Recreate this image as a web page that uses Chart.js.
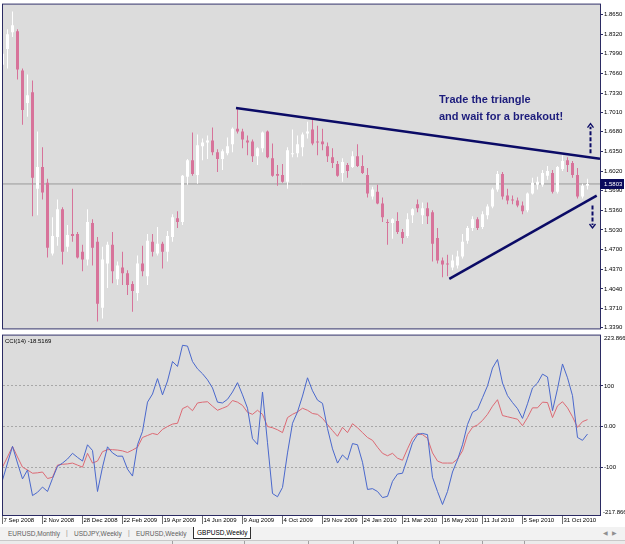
<!DOCTYPE html>
<html>
<head>
<meta charset="utf-8">
<title>GBPUSD,Weekly</title>
<script src="https://cdn.jsdelivr.net/npm/chart.js@4.4.1/dist/chart.umd.min.js"></script>
<style>
  html, body { margin: 0; padding: 0; background: #ffffff; }
  #terminal { position: relative; width: 625px; height: 544px; overflow: hidden; background: #ffffff;
              font-family: "Liberation Sans", Arial, sans-serif; }
  #priceChart { position: absolute; left: 0; top: 0; }
  #cciChart { position: absolute; left: 0; top: 331px; }
  #tabs { position: absolute; left: 0; top: 527px; width: 625px; height: 13px; background: #f2f2f2;
          font-size: 6.5px; color: #606060; }
  .tab { position: absolute; top: 3px; white-space: nowrap; }
  .tab.active { top: 0; height: 11px; line-height: 11px; padding: 0 3px; background: #ffffff;
                border: 1px solid #303030; border-top: none; color: #000000; }
  .bar { position: absolute; top: 2px; color: #909090; }
  #scroll { position: absolute; top: 2px; right: 4px; color: #909090; font-size: 6px; letter-spacing: 4px; }
  #status { position: absolute; left: 0; top: 540px; width: 625px; height: 4px; background: #ebebeb;
            border-top: 1px solid #c8c8c8; }
  #status i { position: absolute; top: 0; width: 1px; height: 4px; background: #a0a0a0; }
</style>
</head>
<body>
<div id="terminal">
  <canvas id="priceChart" width="625" height="333"></canvas>
  <canvas id="cciChart" width="625" height="197"></canvas>
  <div id="tabs">
    <span class="tab" style="left:8px">EURUSD,Monthly</span>
    <span class="bar" style="left:66px">|</span>
    <span class="tab" style="left:74px">USDJPY,Weekly</span>
    <span class="bar" style="left:128px">|</span>
    <span class="tab" style="left:136px">EURUSD,Weekly</span>
    <span class="tab active" style="left:193px">GBPUSD,Weekly</span>
    <span id="scroll">&#9664;&#9654;</span>
  </div>
  <div id="status">
    <i style="left:172px"></i><i style="left:244px"></i><i style="left:308px"></i><i style="left:353px"></i>
    <i style="left:397px"></i><i style="left:439px"></i><i style="left:482px"></i><i style="left:524px"></i>
  </div>
</div>

<script>
// GBPUSD weekly candles, one entry per bar (bar 0 = 7 Sep 2008)
const opens = [
  1.7806, 1.8071, 1.8352, 1.8369, 1.7707, 1.7162, 1.7343, 1.5724, 1.6087, 1.5823,
  1.4633, 1.4914, 1.5377, 1.4749, 1.4963, 1.4963, 1.4666, 1.4534, 1.5146, 1.4831,
  1.3724, 1.4468, 1.4782, 1.4203, 1.4401, 1.4302, 1.4121, 1.3972, 1.4468, 1.4253,
  1.4831, 1.4633, 1.4798, 1.4666, 1.4914, 1.5228, 1.5162, 1.5922, 1.6203, 1.5955,
  1.6434, 1.6501, 1.6534, 1.6336, 1.6220, 1.6319, 1.6468, 1.6732, 1.6682, 1.6534,
  1.6517, 1.6270, 1.6402, 1.6682, 1.6236, 1.5972, 1.5955, 1.5840, 1.6303, 1.6319,
  1.6418, 1.6650, 1.6716, 1.6517, 1.6517, 1.6434, 1.6253, 1.6137, 1.5988, 1.6121,
  1.6087, 1.6270, 1.6104, 1.5955, 1.5592, 1.5674, 1.5476, 1.5162, 1.5146, 1.5179,
  1.4996, 1.4930, 1.5278, 1.5460, 1.5278, 1.5393, 1.5327, 1.4897, 1.4517, 1.4468,
  1.4401, 1.4434, 1.4583, 1.4848, 1.5063, 1.5212, 1.5079, 1.5278, 1.5426, 1.5708,
  1.5972, 1.5608, 1.5542, 1.5525, 1.5443, 1.5360, 1.5641, 1.5790, 1.5790, 1.5939,
  1.5988, 1.5674, 1.6055, 1.6203, 1.6154, 1.5955, 1.5592, 1.5774
];
const highs = [
  1.8055, 1.8402, 1.8699, 1.8402, 1.7740, 1.7641, 1.7542, 1.6682, 1.6418, 1.5889,
  1.5245, 1.5542, 1.5410, 1.5113, 1.5724, 1.4996, 1.4782, 1.5377, 1.5212, 1.4914,
  1.4749, 1.4831, 1.4996, 1.4500, 1.4666, 1.4352, 1.4170, 1.4600, 1.4765, 1.4963,
  1.4963, 1.5079, 1.4831, 1.5013, 1.5294, 1.5344, 1.5955, 1.6220, 1.6666, 1.6633,
  1.6567, 1.6616, 1.6749, 1.6385, 1.6385, 1.6583, 1.6749, 1.7063, 1.6732, 1.6616,
  1.6550, 1.6418, 1.6682, 1.6699, 1.6484, 1.6121, 1.6137, 1.6418, 1.6716, 1.6616,
  1.6666, 1.6848, 1.6881, 1.6782, 1.6732, 1.6501, 1.6402, 1.6187, 1.6236, 1.6154,
  1.6352, 1.6468, 1.6286, 1.6071, 1.5757, 1.5790, 1.5575, 1.5212, 1.5228, 1.5327,
  1.5046, 1.5311, 1.5393, 1.5542, 1.5493, 1.5493, 1.5360, 1.5063, 1.4567, 1.4616,
  1.4616, 1.4682, 1.4963, 1.5096, 1.5261, 1.5245, 1.5344, 1.5460, 1.5740, 1.6021,
  1.6005, 1.5724, 1.5608, 1.5575, 1.5509, 1.5658, 1.5906, 1.5922, 1.6038, 1.6104,
  1.6038, 1.6104, 1.6286, 1.6253, 1.6187, 1.6071, 1.5807, 1.5889
];
const lows = [
  1.7757, 1.7740, 1.8269, 1.7559, 1.6799, 1.6931, 1.5261, 1.5278, 1.5542, 1.4567,
  1.4600, 1.4765, 1.4451, 1.4666, 1.4831, 1.4550, 1.4335, 1.4434, 1.4434, 1.3493,
  1.3542, 1.4055, 1.4137, 1.4104, 1.4104, 1.3938, 1.3658, 1.3840, 1.4253, 1.4104,
  1.4583, 1.4600, 1.4385, 1.4500, 1.4831, 1.5063, 1.5113, 1.5790, 1.5939, 1.5807,
  1.6203, 1.6220, 1.6286, 1.6005, 1.6038, 1.6286, 1.6336, 1.6650, 1.6402, 1.6286,
  1.6170, 1.6121, 1.6336, 1.6236, 1.5922, 1.5774, 1.5823, 1.5724, 1.6253, 1.6253,
  1.6270, 1.6567, 1.6451, 1.6286, 1.6369, 1.6170, 1.6071, 1.5922, 1.5840, 1.5906,
  1.6071, 1.6087, 1.5972, 1.5575, 1.5542, 1.5460, 1.5162, 1.4782, 1.4881, 1.4963,
  1.4798, 1.4897, 1.5146, 1.5327, 1.5129, 1.5129, 1.4500, 1.4468, 1.4236, 1.4253,
  1.4352, 1.4385, 1.4550, 1.4798, 1.5013, 1.5029, 1.5046, 1.5212, 1.5393, 1.5674,
  1.5542, 1.5460, 1.5460, 1.5410, 1.5294, 1.5327, 1.5625, 1.5708, 1.5757, 1.5873,
  1.5641, 1.5641, 1.6021, 1.6005, 1.5906, 1.5559, 1.5559, 1.5708
];
const closes = [
  1.7989, 1.8319, 1.8468, 1.7724, 1.7046, 1.7294, 1.5906, 1.6087, 1.5658, 1.4732,
  1.4930, 1.5377, 1.4666, 1.4947, 1.4930, 1.4567, 1.4534, 1.5162, 1.4732, 1.3790,
  1.4534, 1.4782, 1.4335, 1.4434, 1.4302, 1.4104, 1.4005, 1.4468, 1.4335, 1.4848,
  1.4666, 1.4798, 1.4666, 1.4930, 1.5245, 1.5162, 1.5939, 1.6203, 1.5972, 1.6451,
  1.6501, 1.6534, 1.6336, 1.6220, 1.6352, 1.6434, 1.6732, 1.6682, 1.6550, 1.6501,
  1.6270, 1.6402, 1.6666, 1.6253, 1.5939, 1.5939, 1.5840, 1.6369, 1.6319, 1.6468,
  1.6633, 1.6682, 1.6484, 1.6501, 1.6468, 1.6270, 1.6154, 1.5939, 1.6170, 1.6021,
  1.6270, 1.6104, 1.5988, 1.5641, 1.5708, 1.5476, 1.5245, 1.5146, 1.5212, 1.4996,
  1.4897, 1.5212, 1.5377, 1.5393, 1.5393, 1.5261, 1.4798, 1.4517, 1.4451, 1.4451,
  1.4517, 1.4583, 1.4831, 1.5063, 1.5212, 1.5063, 1.5294, 1.5426, 1.5708, 1.5972,
  1.5592, 1.5525, 1.5525, 1.5443, 1.5344, 1.5641, 1.5823, 1.5840, 1.5988, 1.6021,
  1.5674, 1.6087, 1.6187, 1.6121, 1.5955, 1.5592, 1.5774, 1.5803
];

// CCI(14) and its signal line, same bars
const cciValues = [
  -132, -90, -49, -90, -129, -107, -170, -162, -149, -160,
  -128, -98, -90, -80, -66, -76, -85, -45, -59, -160,
  -100, -50, -65, -73, -73, -105, -122, -45, -12, 60,
  80, 118, 78, 112, 160, 148, 200, 198, 160, 142,
  130, 115, 95, 60, 58, 67, 85, 108, 78, 45,
  -30, -44, 85, -40, -165, -173, -150, -65, 8, 36,
  75, 120, 88, 65, 57, -5, -55, -90, -70, -82,
  -42, -45, -88, -155, -153, -160, -175, -172, -135, -117,
  -115, -78, -40, -20, -17, -20, -125, -160, -192, -160,
  -112, -82, -45, 5, 35, 42, 71, 100, 144, 165,
  107, 76, 59, 44, 20, 56, 95, 107, 129, 122,
  39, 93, 154, 120, 76, -27, -34, -18.5169
];
const cciSignal = [
  -100, -75, -49, -75, -100, -107, -115, -114, -112, -128,
  -125, -95, -93, -92, -90, -95, -100, -66, -90, -85,
  -62, -57, -57, -58, -60, -64, -58, -51, -27, -22,
  -17, -20, -7, 0, 6, 8, 44, 50, 39, 58,
  60, 61, 50, 40, 45, 50, 64, 60, 52, 35,
  30, 40, 30, 0, -3, -8, -15, 22, 30, 36,
  45, 40, 32, 30, 20, 5, -10, -24, -2, -15,
  7, -3, -15, -27, -34, -51, -66, -72, -66, -78,
  -83, -55, -29, -17, -20, -29, -65, -85, -90, -90,
  -90, -80, -60, -20, -2, 4, 15, 30, 50, 66,
  27, 24, 21, 18, 2, 22, 46, 46, 60, 59,
  22, 51, 61, 46, 24, -2, 12, 17
];

// axis labels
const priceTicks = [1.8650, 1.8320, 1.7990, 1.7660, 1.7330, 1.7010, 1.6680, 1.6350, 1.6020,
                    1.5690, 1.5360, 1.5030, 1.4700, 1.4370, 1.4040, 1.3710, 1.3390];
const cciTicks = [100, 0, -100];
const cciRange = [-217.866, 223.8665];
const dateLabels = ['7 Sep 2008', '2 Nov 2008', '28 Dec 2008', '22 Feb 2009', '19 Apr 2009',
                    '14 Jun 2009', '9 Aug 2009', '4 Oct 2009', '29 Nov 2009', '24 Jan 2010',
                    '21 Mar 2010', '16 May 2010', '11 Jul 2010', '5 Sep 2010', '31 Oct 2010'];
const barsPerLabel = 8;

// hand drawn trend lines, in bar / price units
const upperTrend = [{ x: 46.7, y: 1.7079 }, { x: 119.5, y: 1.6225 }];
const lowerTrend = [{ x: 89.36, y: 1.4210 }, { x: 118.84, y: 1.5608 }];
const upArrow = { x: 117.6, from: 1.6319, to: 1.6815 };
const downArrow = { x: 118.0, from: 1.5443, to: 1.5063 };
const noteLines = ['Trade the triangle', 'and wait for a breakout!'];
const noteAnchor = { x: 87.3, y: [1.7215, 1.6935] };

(function () {
  'use strict';

  const X_MIN = 0.1;
  const X_MAX = 119.5;
  const PLOT_BG = '#dcdcdc';
  const FRAME = '#2b2b63';
  const NAVY = '#0b0b66';
  const BULL = '#ffffff';
  const BEAR = '#d7739a';
  const TICK_FONT = { family: 'Liberation Sans, Arial, sans-serif', size: 6 };

  const candleColors = closes.map((c, i) => (c >= opens[i] ? BULL : BEAR));
  const lastClose = closes[closes.length - 1];

  // background + frame round the plotting area, MT4 style
  const panelFrame = {
    id: 'panelFrame',
    beforeDraw(chart) {
      const { ctx, chartArea: a } = chart;
      ctx.save();
      ctx.fillStyle = '#ffffff';
      ctx.fillRect(0, 0, chart.width, chart.height);
      ctx.fillStyle = PLOT_BG;
      ctx.fillRect(a.left, a.top, a.right - a.left, a.bottom - a.top);
      ctx.restore();
    },
    afterDraw(chart) {
      const { ctx, chartArea: a } = chart;
      ctx.save();
      ctx.strokeStyle = FRAME;
      ctx.lineWidth = 1;
      ctx.strokeRect(a.left - 0.5, a.top - 0.5, a.right - a.left + 1, a.bottom - a.top + 1);
      ctx.restore();
    }
  };

  function drawDashedArrow(ctx, x, y1, y2) {
    const dir = y2 < y1 ? -1 : 1;
    ctx.save();
    ctx.strokeStyle = NAVY;
    ctx.lineWidth = 2;
    ctx.setLineDash([4, 2]);
    ctx.beginPath();
    ctx.moveTo(x, y1);
    ctx.lineTo(x, y2 - dir * 3);
    ctx.stroke();
    ctx.setLineDash([]);
    ctx.lineWidth = 1.3;
    ctx.beginPath();
    ctx.moveTo(x - 3, y2 - dir * 4);
    ctx.lineTo(x, y2);
    ctx.lineTo(x + 3, y2 - dir * 4);
    ctx.stroke();
    ctx.restore();
  }

  // text, arrows and the bid label of the price window
  const priceNotes = {
    id: 'priceNotes',
    afterDatasetsDraw(chart) {
      const { ctx, scales: { x, y } } = chart;
      drawDashedArrow(ctx, x.getPixelForValue(upArrow.x), y.getPixelForValue(upArrow.from), y.getPixelForValue(upArrow.to));
      drawDashedArrow(ctx, x.getPixelForValue(downArrow.x), y.getPixelForValue(downArrow.from), y.getPixelForValue(downArrow.to));
      ctx.save();
      ctx.fillStyle = '#1c1c7c';
      ctx.font = 'bold 11px "Liberation Sans", Arial, sans-serif';
      ctx.textBaseline = 'middle';
      noteLines.forEach((t, k) => {
        ctx.fillText(t, x.getPixelForValue(noteAnchor.x), y.getPixelForValue(noteAnchor.y[k]));
      });
      ctx.restore();
    },
    afterDraw(chart) {
      const { ctx, chartArea: a, scales: { y } } = chart;
      const py = Math.round(y.getPixelForValue(lastClose));
      ctx.save();
      ctx.fillStyle = '#0a0a5c';
      ctx.fillRect(a.right, py - 5, 24, 10);
      ctx.fillStyle = '#ffffff';
      ctx.font = '6px "Liberation Sans", Arial, sans-serif';
      ctx.textBaseline = 'middle';
      ctx.fillText(lastClose.toFixed(4), a.right + 4, py);
      ctx.restore();
    }
  };

  // indicator caption and the min/max labels MT4 puts at the window edges
  const cciNotes = {
    id: 'cciNotes',
    afterDraw(chart) {
      const { ctx, chartArea: a, scales: { y } } = chart;
      ctx.save();
      ctx.fillStyle = '#000000';
      ctx.font = '6px "Liberation Sans", Arial, sans-serif';
      ctx.textBaseline = 'middle';
      ctx.fillText('CCI(14) ' + cciValues[cciValues.length - 1].toFixed(4), a.left + 2, a.top + 6);
      ctx.fillText(cciRange[1].toFixed(4), a.right + 4, y.getPixelForValue(cciRange[1]) + 3);
      ctx.fillText(cciRange[0].toFixed(3), a.right + 3, y.getPixelForValue(cciRange[0]) - 3);
      ctx.restore();
    }
  };

  const xBase = {
    type: 'linear',
    min: X_MIN,
    max: X_MAX,
    offset: false
  };

  new Chart(document.getElementById('priceChart'), {
    type: 'bar',
    data: {
      datasets: [
        {
          type: 'line',
          data: upperTrend,
          borderColor: NAVY,
          borderWidth: 2.5,
          pointRadius: 0,
          order: 0
        },
        {
          type: 'line',
          data: lowerTrend,
          borderColor: NAVY,
          borderWidth: 2.5,
          pointRadius: 0,
          order: 0
        },
        {
          data: opens.map((o, i) => ({ x: i, y: [o, closes[i]] })),
          backgroundColor: candleColors,
          barThickness: 3,
          minBarLength: 1,
          inflateAmount: 0,
          grouped: false,
          order: 1
        },
        {
          data: highs.map((h, i) => ({ x: i, y: [lows[i], h] })),
          backgroundColor: candleColors,
          barThickness: 1,
          inflateAmount: 0,
          grouped: false,
          order: 2
        },
        {
          type: 'line',
          data: [{ x: X_MIN, y: lastClose }, { x: X_MAX, y: lastClose }],
          borderColor: '#9a9a9a',
          borderWidth: 1,
          pointRadius: 0,
          order: 3
        }
      ]
    },
    options: {
      responsive: false,
      animation: false,
      events: [],
      layout: { padding: { left: 3, top: 2, right: 0, bottom: 2 } },
      plugins: { legend: { display: false }, tooltip: { enabled: false } },
      scales: {
        x: Object.assign({ display: false }, xBase),
        y: {
          position: 'right',
          min: 1.3377,
          max: 1.8815,
          beginAtZero: false,
          afterBuildTicks(scale) {
            scale.ticks = priceTicks.map(v => ({ value: v }));
          },
          afterFit(scale) {
            scale.width = 25;
          },
          ticks: {
            autoSkip: false,
            padding: 1,
            color: '#000000',
            font: TICK_FONT,
            callback: v => Number(v).toFixed(4)
          },
          grid: { drawOnChartArea: false, drawTicks: true, tickLength: 3, tickColor: FRAME },
          border: { display: true, color: FRAME, width: 1 }
        }
      }
    },
    plugins: [panelFrame, priceNotes]
  });

  new Chart(document.getElementById('cciChart'), {
    type: 'line',
    data: {
      datasets: [
        {
          data: cciValues.map((v, i) => ({ x: i, y: v })),
          borderColor: '#4a68cc',
          borderWidth: 1,
          pointRadius: 0
        },
        {
          data: cciSignal.map((v, i) => ({ x: i, y: v })),
          borderColor: '#dc6a74',
          borderWidth: 1,
          pointRadius: 0
        }
      ]
    },
    options: {
      responsive: false,
      animation: false,
      events: [],
      layout: { padding: { left: 3, top: 3, right: 0, bottom: 0 } },
      plugins: { legend: { display: false }, tooltip: { enabled: false } },
      scales: {
        x: Object.assign({
          afterBuildTicks(scale) {
            scale.ticks = dateLabels.map((d, k) => ({ value: k * barsPerLabel }));
          },
          afterFit(scale) {
            scale.height = 13;
          },
          ticks: {
            autoSkip: false,
            maxRotation: 0,
            minRotation: 0,
            align: 'start',
            labelOffset: 1,
            padding: -7,
            color: '#000000',
            font: TICK_FONT,
            callback: (v, idx) => dateLabels[idx]
          },
          grid: { drawOnChartArea: false, drawTicks: true, tickLength: 9, tickColor: '#707070' },
          border: { display: false }
        }, xBase),
        y: {
          position: 'right',
          min: cciRange[0],
          max: cciRange[1],
          afterBuildTicks(scale) {
            scale.ticks = cciTicks.map(v => ({ value: v }));
          },
          afterFit(scale) {
            scale.width = 25;
          },
          ticks: {
            autoSkip: false,
            padding: 1,
            color: '#000000',
            font: TICK_FONT,
            callback: v => (v === 0 ? '0.00' : String(v))
          },
          grid: { drawOnChartArea: true, color: '#a8a8a8', drawTicks: true, tickLength: 3, tickColor: FRAME },
          border: { display: true, color: FRAME, width: 1, dash: [2, 2] }
        }
      }
    },
    plugins: [panelFrame, cciNotes]
  });
})();
</script>
</body>
</html>
